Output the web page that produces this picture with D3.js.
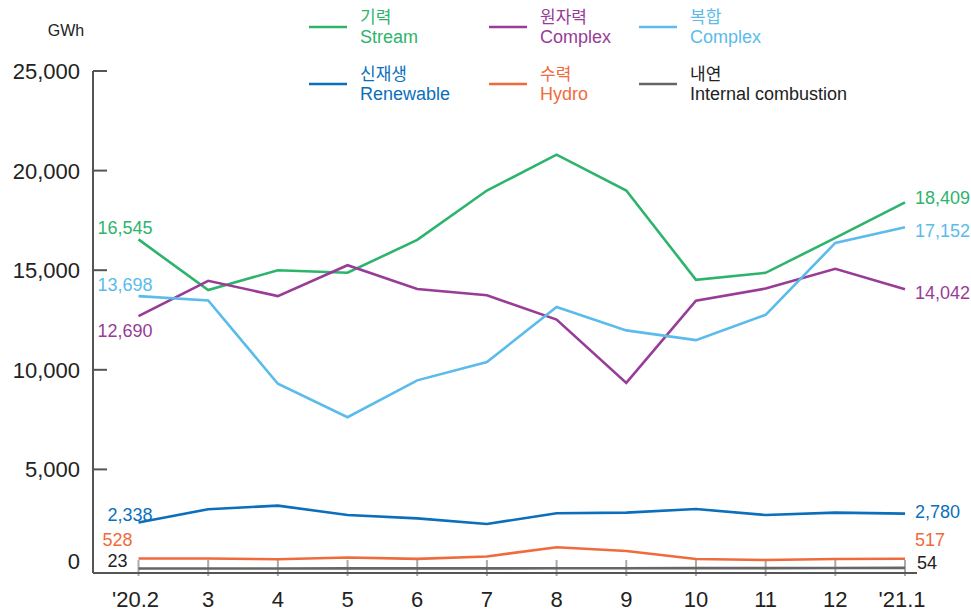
<!DOCTYPE html>
<html>
<head>
<meta charset="utf-8">
<script src="https://cdn.jsdelivr.net/npm/d3@7"></script>
<style>
  body { margin: 0; background: #fff; }
  svg text { font-family: "Liberation Sans", Arial, sans-serif; }
  .kr { font-family: "Noto Sans CJK KR", "Liberation Sans", sans-serif; }
</style>
</head>
<body>
<div id="chart"></div>
<script>
// months on the x axis
const months = ["'20.2", "3", "4", "5", "6", "7", "8", "9", "10", "11", "12", "'21.1"];
const yTicks = [0, 5000, 10000, 15000, 20000, 25000];

// generation by source, GWh
const stream = [16545, 14000, 15000, 14870, 16520, 19000, 20800, 19000, 14520, 14870, 16620, 18409];
const nuclear = [12690, 14470, 13700, 15250, 14060, 13740, 12520, 9340, 13470, 14080, 15070, 14042];
const combined = [13698, 13480, 9300, 7620, 9470, 10390, 13150, 11980, 11490, 12760, 16370, 17152];
const renewable = [2338, 3000, 3180, 2710, 2540, 2260, 2800, 2830, 3010, 2710, 2830, 2780];
const hydro = [528, 530, 490, 580, 510, 630, 1090, 900, 500, 450, 500, 517];
const internal = [23, 25, 28, 30, 31, 33, 35, 38, 42, 45, 50, 54];

const series = [
  { kr: "기력", en: "Stream", color: "#2db46c", values: stream },
  { kr: "원자력", en: "Complex", color: "#983c97", values: nuclear },
  { kr: "복합", en: "Complex", color: "#5bbbea", values: combined },
  { kr: "신재생", en: "Renewable", color: "#0b6fbc", values: renewable },
  { kr: "수력", en: "Hydro", color: "#f06b3c", values: hydro },
  { kr: "내연", en: "Internal combustion", color: "#666666", values: internal }
];

// end label offsets (left / right)
const leftLabel = [
  { dx: 14, dy: -5 },
  { dx: 14, dy: 21 },
  { dx: 14, dy: -5 },
  { dx: 14, dy: -1 },
  { dx: -6, dy: -12 },
  { dx: -11, dy: -2, color: "#222" }
];
const rightLabel = [
  { dx: 10, dy: 2 },
  { dx: 10, dy: 10 },
  { dx: 10, dy: 10 },
  { dx: 10, dy: 4 },
  { dx: 10, dy: -13 },
  { dx: 12, dy: 1, color: "#222" }
];

const width = 971, height = 614;
const svg = d3.select("#chart").append("svg")
  .attr("width", width)
  .attr("height", height);

const xScale = d3.scalePoint().domain(months).range([138.5, 905]);
const yScale = d3.scaleLinear().domain([0, 25000]).range([569, 71]);
const fmt = d3.format(",");

// y axis
svg.append("line")
  .attr("x1", 93).attr("x2", 93)
  .attr("y1", yScale(25000)).attr("y2", 573)
  .attr("stroke", "#555").attr("stroke-width", 2);

svg.selectAll(".ytick")
  .data(yTicks.filter(d => d > 0))
  .join("line")
  .attr("class", "ytick")
  .attr("x1", 93).attr("x2", 107)
  .attr("y1", d => yScale(d)).attr("y2", d => yScale(d))
  .attr("stroke", "#555").attr("stroke-width", 2);

svg.selectAll(".ylabel")
  .data(yTicks)
  .join("text")
  .attr("class", "ylabel")
  .attr("x", 80)
  .attr("y", d => yScale(d) + (d === 0 ? 0 : 8))
  .attr("text-anchor", "end")
  .attr("font-size", 22)
  .attr("fill", "#222")
  .text(d => fmt(d));

svg.append("text")
  .attr("x", 66).attr("y", 36)
  .attr("text-anchor", "middle")
  .attr("font-size", 16)
  .attr("fill", "#222")
  .text("GWh");

// x axis
svg.selectAll(".xtick")
  .data(months)
  .join("line")
  .attr("class", "xtick")
  .attr("x1", d => xScale(d)).attr("x2", d => xScale(d))
  .attr("y1", 560).attr("y2", 576)
  .attr("stroke", "#aaa").attr("stroke-width", 2);

svg.append("line")
  .attr("x1", 93).attr("x2", 917)
  .attr("y1", 573).attr("y2", 573)
  .attr("stroke", "#555").attr("stroke-width", 2);

svg.selectAll(".xlabel")
  .data(months)
  .join("text")
  .attr("class", "xlabel")
  .attr("x", d => xScale(d) + (d.startsWith("'") ? -3 : 0))
  .attr("y", 607)
  .attr("text-anchor", "middle")
  .attr("font-size", 22)
  .attr("fill", "#222")
  .text(d => d);

// lines
const line = d3.line()
  .x((d, i) => xScale(months[i]))
  .y(d => yScale(d));

svg.selectAll(".series")
  .data(series)
  .join("path")
  .attr("class", "series")
  .attr("d", d => line(d.values))
  .attr("fill", "none")
  .attr("stroke", d => d.color)
  .attr("stroke-width", 2.6)
  .attr("stroke-linejoin", "miter");

// end labels
series.forEach((s, i) => {
  const l = leftLabel[i], r = rightLabel[i];
  const first = s.values[0], last = s.values[s.values.length - 1];
  svg.append("text")
    .attr("x", xScale(months[0]) + l.dx)
    .attr("y", yScale(first) + l.dy)
    .attr("text-anchor", "end")
    .attr("font-size", 18)
    .attr("fill", l.color || s.color)
    .text(fmt(first));
  svg.append("text")
    .attr("x", xScale(months[months.length - 1]) + r.dx)
    .attr("y", yScale(last) + r.dy)
    .attr("font-size", 18)
    .attr("fill", r.color || s.color)
    .text(fmt(last));
});

// legend
const legendX = [309, 489, 639];
const legendY = [27, 84];
const legend = svg.selectAll(".legend")
  .data(series)
  .join("g")
  .attr("class", "legend")
  .attr("transform", (d, i) => `translate(${legendX[i % 3]},${legendY[Math.floor(i / 3)]})`);

legend.append("line")
  .attr("x1", 0).attr("x2", 38)
  .attr("stroke", d => d.color)
  .attr("stroke-width", 2.6);

legend.append("text")
  .attr("class", "kr")
  .attr("x", 51).attr("y", -4)
  .attr("font-size", 17)
  .attr("fill", d => d.color === "#666666" ? "#222" : d.color)
  .text(d => d.kr);

legend.append("text")
  .attr("x", 51).attr("y", 16)
  .attr("font-size", 18)
  .attr("fill", d => d.color === "#666666" ? "#222" : d.color)
  .text(d => d.en);
</script>
</body>
</html>
